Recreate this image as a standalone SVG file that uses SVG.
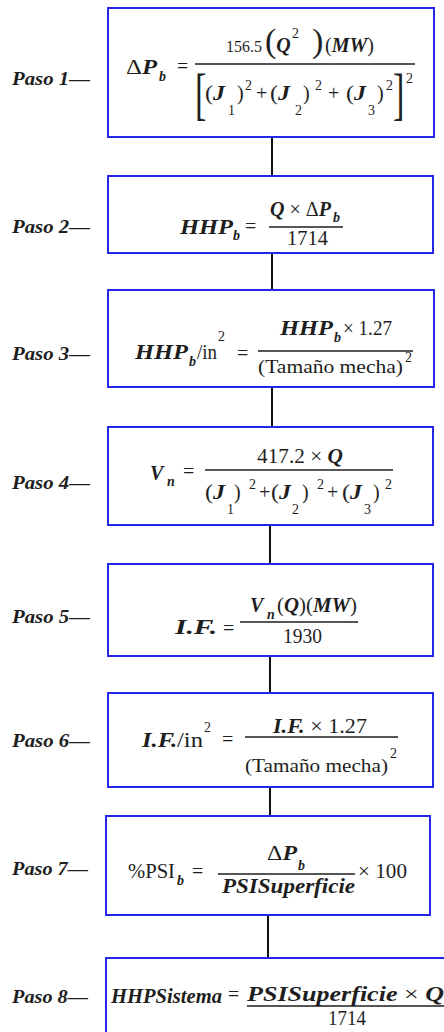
<svg xmlns="http://www.w3.org/2000/svg" width="444" height="1032" viewBox="0 0 444 1032">
<style>
.box{fill:#fff;stroke:#2626e6;stroke-width:2}
.cn{stroke:#111;stroke-width:2;fill:none}
.fr{stroke:#1e1e1e;stroke-width:1.4}
.t{font-family:"Liberation Serif","Times New Roman",serif;font-size:20px;fill:#1e1e1e}
.i{font-style:italic;font-weight:bold}
.s{font-size:14px}
.big{font-size:34px}
.lbl{font-family:"Liberation Serif","Times New Roman",serif;font-style:italic;font-weight:bold;font-size:19px;fill:#1e1e1e}
</style>
<rect x="0" y="0" width="444" height="1032" fill="#fff"/>
<g id="connectors">
<line class="cn" x1="272" y1="137" x2="272" y2="176"/>
<line class="cn" x1="272" y1="253" x2="272" y2="290"/>
<line class="cn" x1="272" y1="387" x2="272" y2="427"/>
<line class="cn" x1="270" y1="525" x2="270" y2="564"/>
<line class="cn" x1="270" y1="656" x2="270" y2="693"/>
<line class="cn" x1="270" y1="787" x2="270" y2="816"/>
<line class="cn" x1="268" y1="915" x2="268" y2="958"/>
</g>
<g id="paso1">
<rect class="box" x="108" y="8" width="326" height="129"/>
<text class="lbl" x="12" y="85" textLength="78" lengthAdjust="spacingAndGlyphs">Paso 1—</text>
<text class="t" x="126" y="74" textLength="31" lengthAdjust="spacingAndGlyphs">Δ<tspan class="i">P</tspan></text>
<text class="t i s" x="159" y="81">b</text>
<text class="t" x="177" y="73">=</text>
<line class="fr" x1="195" y1="64" x2="415" y2="64"/>
<text class="t" x="226" y="52" style="font-size:16px">156.5</text>
<text class="t" x="265" y="52"><tspan class="big">(</tspan><tspan class="i">Q</tspan><tspan class="s" x="292" y="38">2</tspan><tspan class="big" x="312" y="52">)</tspan><tspan x="325">(<tspan class="i">MW</tspan>)</tspan></text>
<text class="t" transform="translate(195,113) scale(0.6,1)" style="font-size:57px">[</text>
<text class="t" x="205" y="100" textLength="20" lengthAdjust="spacingAndGlyphs">(<tspan class="i">J</tspan></text>
<text class="t s" x="228" y="115">1</text>
<text class="t" x="237" y="100">)</text>
<text class="t s" x="245" y="90">2</text>
<text class="t" x="256" y="100">+</text>
<text class="t" x="270" y="100" textLength="20" lengthAdjust="spacingAndGlyphs">(<tspan class="i">J</tspan></text>
<text class="t s" x="295" y="115">2</text>
<text class="t" x="303" y="100">)</text>
<text class="t s" x="315" y="90">2</text>
<text class="t" x="328" y="100">+</text>
<text class="t" x="346" y="100" textLength="20" lengthAdjust="spacingAndGlyphs">(<tspan class="i">J</tspan></text>
<text class="t s" x="368" y="115">3</text>
<text class="t" x="377" y="100">)</text>
<text class="t s" x="386" y="90">2</text>
<text class="t" transform="translate(393,113) scale(0.6,1)" style="font-size:57px">]</text>
<text class="t s" x="406" y="83">2</text>
</g>
<g id="paso2">
<rect class="box" x="108" y="176" width="325" height="77"/>
<text class="lbl" x="12" y="233" textLength="78" lengthAdjust="spacingAndGlyphs">Paso 2—</text>
<text class="t i" x="180" y="234" textLength="53" lengthAdjust="spacingAndGlyphs">HHP</text>
<text class="t i s" x="233" y="240">b</text>
<text class="t" x="245" y="233">=</text>
<line class="fr" x1="269" y1="227" x2="343" y2="227"/>
<text class="t" x="270" y="216" textLength="61" lengthAdjust="spacingAndGlyphs"><tspan class="i">Q</tspan> × Δ<tspan class="i">P</tspan></text>
<text class="t i s" x="333" y="222">b</text>
<text class="t" x="287" y="245" textLength="41" lengthAdjust="spacingAndGlyphs">1714</text>
</g>
<g id="paso3">
<rect class="box" x="108" y="290" width="326" height="97"/>
<text class="lbl" x="12" y="360" textLength="78" lengthAdjust="spacingAndGlyphs">Paso 3—</text>
<text class="t i" x="135" y="359" textLength="53" lengthAdjust="spacingAndGlyphs">HHP</text>
<text class="t i s" x="189" y="366">b</text>
<text class="t" x="197" y="359" textLength="20" lengthAdjust="spacingAndGlyphs">/in</text>
<text class="t s" x="218" y="341">2</text>
<text class="t" x="237" y="360">=</text>
<line class="fr" x1="258" y1="351" x2="413" y2="351"/>
<text class="t i" x="280" y="335" textLength="53" lengthAdjust="spacingAndGlyphs">HHP</text>
<text class="t i s" x="334" y="342">b</text>
<text class="t" x="343" y="335" textLength="49" lengthAdjust="spacingAndGlyphs">× 1.27</text>
<text class="t" x="258" y="373" style="font-size:18px" textLength="145" lengthAdjust="spacingAndGlyphs">(Tamaño mecha)</text>
<text class="t s" x="405" y="362">2</text>
</g>
<g id="paso4">
<rect class="box" x="108" y="427" width="325" height="98"/>
<text class="lbl" x="12" y="489" textLength="78" lengthAdjust="spacingAndGlyphs">Paso 4—</text>
<text class="t i" x="150" y="480">V</text>
<text class="t i s" x="167" y="486">n</text>
<text class="t" x="183" y="478">=</text>
<line class="fr" x1="205" y1="470" x2="393" y2="470"/>
<text class="t" x="257" y="463" textLength="86" lengthAdjust="spacingAndGlyphs">417.2 × <tspan class="i">Q</tspan></text>
<text class="t" x="205" y="499" textLength="20" lengthAdjust="spacingAndGlyphs">(<tspan class="i">J</tspan></text>
<text class="t s" x="227" y="514">1</text>
<text class="t" x="234" y="499">)</text>
<text class="t s" x="249" y="489">2</text>
<text class="t" x="259" y="499">+</text>
<text class="t" x="271" y="499" textLength="20" lengthAdjust="spacingAndGlyphs">(<tspan class="i">J</tspan></text>
<text class="t s" x="292" y="514">2</text>
<text class="t" x="302" y="499">)</text>
<text class="t s" x="317" y="489">2</text>
<text class="t" x="327" y="499">+</text>
<text class="t" x="342" y="499" textLength="20" lengthAdjust="spacingAndGlyphs">(<tspan class="i">J</tspan></text>
<text class="t s" x="364" y="514">3</text>
<text class="t" x="373" y="499">)</text>
<text class="t s" x="385" y="489">2</text>
</g>
<g id="paso5">
<rect class="box" x="108" y="564" width="325" height="92"/>
<text class="lbl" x="12" y="623" textLength="78" lengthAdjust="spacingAndGlyphs">Paso 5—</text>
<text class="t i" x="175" y="634" textLength="42" lengthAdjust="spacingAndGlyphs">I.F.</text>
<text class="t" x="223" y="635">=</text>
<line class="fr" x1="240" y1="622" x2="358" y2="622"/>
<text class="t i" x="250" y="612">V</text>
<text class="t i s" x="267" y="619">n</text>
<text class="t" x="277" y="612" textLength="80" lengthAdjust="spacingAndGlyphs">(<tspan class="i">Q</tspan>)(<tspan class="i">MW</tspan>)</text>
<text class="t" x="283" y="643" textLength="39" lengthAdjust="spacingAndGlyphs">1930</text>
</g>
<g id="paso6">
<rect class="box" x="108" y="693" width="325" height="94"/>
<text class="lbl" x="12" y="747" textLength="78" lengthAdjust="spacingAndGlyphs">Paso 6—</text>
<text class="t" x="142" y="747" textLength="61" lengthAdjust="spacingAndGlyphs"><tspan class="i">I.F.</tspan>/in</text>
<text class="t s" x="204" y="732">2</text>
<text class="t" x="222" y="746">=</text>
<line class="fr" x1="245" y1="737" x2="398" y2="737"/>
<text class="t" x="273" y="733" textLength="94" lengthAdjust="spacingAndGlyphs"><tspan class="i">I.F.</tspan> × 1.27</text>
<text class="t" x="245" y="772" style="font-size:18px" textLength="143" lengthAdjust="spacingAndGlyphs">(Tamaño mecha)</text>
<text class="t s" x="390" y="758">2</text>
</g>
<g id="paso7">
<rect class="box" x="106" y="816" width="324" height="99"/>
<text class="lbl" x="12" y="875" textLength="76" lengthAdjust="spacingAndGlyphs">Paso 7—</text>
<text class="t" x="128" y="878" textLength="47" lengthAdjust="spacingAndGlyphs">%PSI</text>
<text class="t i s" x="177" y="885">b</text>
<text class="t" x="192" y="878">=</text>
<line class="fr" x1="218" y1="874" x2="355" y2="874"/>
<text class="t" x="267" y="860" textLength="30" lengthAdjust="spacingAndGlyphs">Δ<tspan class="i">P</tspan></text>
<text class="t i s" x="298" y="870">b</text>
<text class="t i" x="222" y="893" textLength="133" lengthAdjust="spacingAndGlyphs">PSISuperficie</text>
<text class="t" x="358" y="878" textLength="49" lengthAdjust="spacingAndGlyphs">× 100</text>
</g>
<g id="paso8">
<rect class="box" x="106" y="958" width="360" height="100"/>
<text class="lbl" x="12" y="1003" textLength="76" lengthAdjust="spacingAndGlyphs">Paso 8—</text>
<text class="t i" x="111" y="1003" textLength="111" lengthAdjust="spacingAndGlyphs">HHPSistema</text>
<text class="t" x="228" y="1001">=</text>
<line class="fr" x1="247" y1="1006" x2="450" y2="1006"/>
<text class="t" x="247" y="1001" textLength="197" lengthAdjust="spacingAndGlyphs"><tspan class="i">PSISuperficie</tspan> × <tspan class="i">Q</tspan></text>
<text class="t" x="328" y="1025" textLength="38" lengthAdjust="spacingAndGlyphs">1714</text>
</g>
</svg>
